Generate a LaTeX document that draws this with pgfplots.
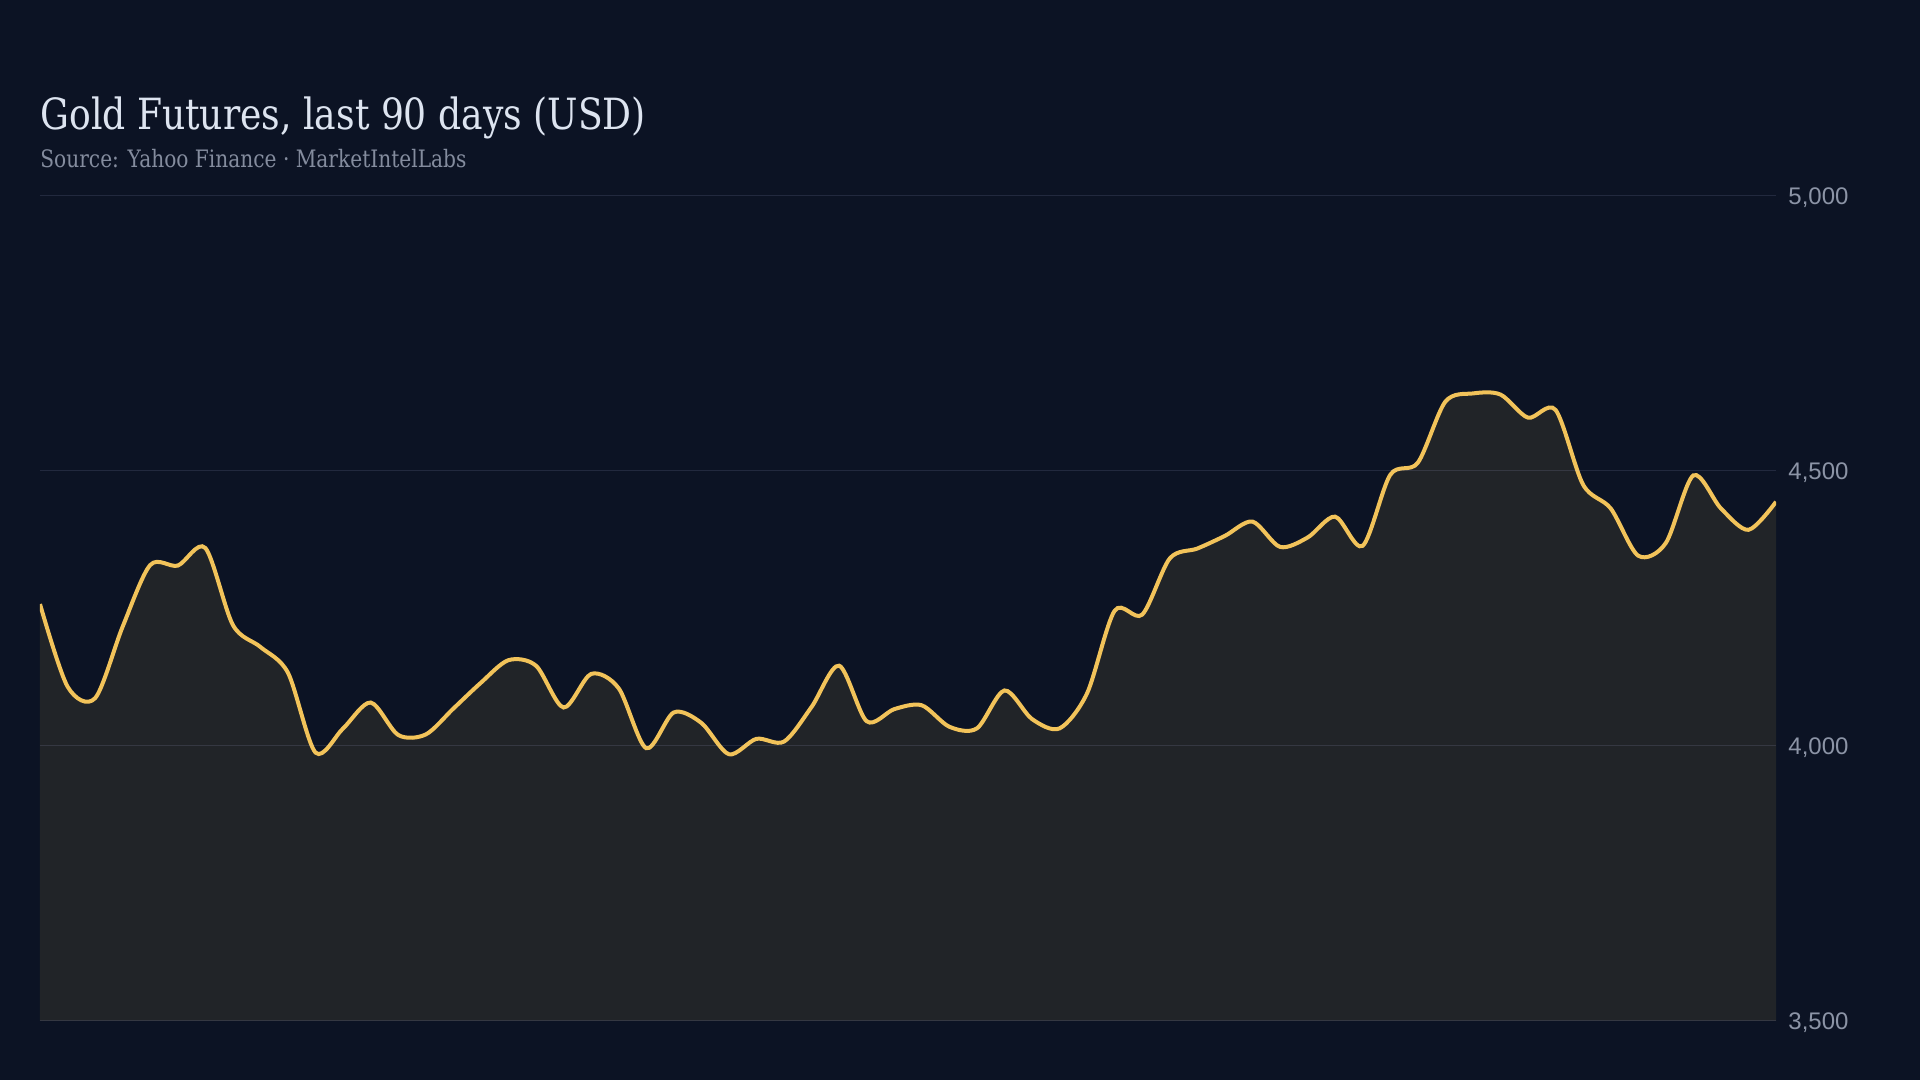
\documentclass[border=0pt]{standalone}
\usepackage{fontspec}
\usepackage{pgfplots}
\pgfplotsset{compat=1.18}
\setmainfont{Liberation Sans}
\newfontfamily\titlefont{DejaVu Serif}[FakeStretch=0.84]
\newfontfamily\tickfont{Liberation Sans}

\definecolor{bg}{HTML}{0C1324}
\definecolor{areafill}{HTML}{212428}
\definecolor{gold}{HTML}{F2C35A}
\definecolor{gridc}{HTML}{C8D0FF}
\definecolor{titlec}{HTML}{DDE4F0}
\definecolor{subc}{HTML}{848C9E}
\definecolor{tickc}{HTML}{8C94A6}

% daily close, 64 trading days
\pgfplotstableread{
d  close
0  4258
1  4108
2  4087
3  4217
4  4329
5  4328
6  4360
7  4220
8  4180
9  4133
10 3988
11 4032
12 4079
13 4020
14 4021
15 4068
16 4115
17 4156
18 4146
19 4070
20 4131
21 4105
22 3996
23 4061
24 4042
25 3985
26 4013
27 4008
28 4071
29 4146
30 4045
31 4067
32 4074
33 4035
34 4032
35 4101
36 4049
37 4032
38 4096
39 4246
40 4239
41 4341
42 4359
43 4382
44 4408
45 4362
46 4379
47 4417
48 4364
49 4493
50 4515
51 4626
52 4641
53 4639
54 4597
55 4611
56 4475
57 4432
58 4346
59 4369
60 4492
61 4432
62 4393
63 4444
}\gold

\begin{document}
\begin{tikzpicture}
\useasboundingbox (0,0) rectangle (960pt,540pt);
\fill[bg] (0,0) rectangle (960pt,540pt);

\node[anchor=base west, inner sep=0, text=titlec, font=\titlefont\fontsize{21.5}{24}\selectfont]
  at (20pt,475pt) {Gold Futures, last 90 days (USD)};
\node[anchor=base west, inner sep=0, text=subc, font=\titlefont\fontsize{12}{14}\selectfont]
  at (20pt,456pt) {Source: Yahoo Finance · MarketIntelLabs};

\begin{axis}[
    at={(20pt,29.5pt)}, anchor=south west,
    scale only axis,
    width=868pt, height=412.5pt,
    xmin=0, xmax=63,
    ymin=3500, ymax=5000,
    ytick={3500,4000,4500,5000},
    xtick=\empty,
    yticklabel pos=right,
    axis line style={draw=none},
    major tick length=0pt,
    ymajorgrids,
    grid style={gridc, opacity=0.12, line width=0.5pt},
    axis on top,
    yticklabel style={anchor=west, inner sep=0pt, xshift=6pt, yshift=-0.6pt, text=tickc,
      font=\tickfont\fontsize{12}{14}\selectfont},
    /pgf/number format/assume math mode=true,
    /pgf/number format/1000 sep={,},
]
\addplot[draw=none, fill=areafill, smooth, tension=0.5] table[x=d, y=close] {\gold} \closedcycle;
\addplot[gold, line width=2pt, smooth, tension=0.5] table[x=d, y=close] {\gold};
\end{axis}
\end{tikzpicture}
\end{document}
